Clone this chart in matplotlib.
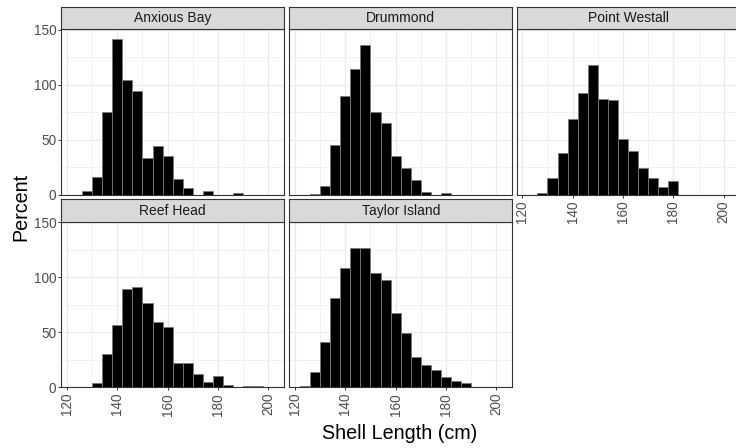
import numpy as np
import matplotlib
matplotlib.use("Agg")
import matplotlib.pyplot as plt
from matplotlib.ticker import MultipleLocator

plt.rcParams['font.family'] = ['Liberation Sans', 'DejaVu Sans']

# Histogram bins: 4 cm wide, left edges starting at 122 cm
bin_start = 122
bin_width = 4

sites = ["Anxious Bay", "Drummond", "Point Westall", "Reef Head", "Taylor Island"]

anxious_bay = [0, 3, 16, 75, 141, 104, 94, 33, 44, 35, 14, 6, 0, 3, 0, 0, 1.5, 0, 0]
drummond = [0, 1, 8, 45, 90, 114, 136, 75, 65, 35, 24, 13, 2, 0, 1.5, 0, 0, 0, 0]
point_westall = [0, 1.5, 15, 38, 69, 92, 118, 87, 86, 51, 40, 24, 15, 7, 12, 0, 0, 0, 0]
reef_head = [0, 0, 4, 30, 57, 89, 91, 77, 59, 55, 22, 22, 12, 5, 10, 2, 0, 1.2, 1.2]
taylor_island = [1.2, 14, 41, 81, 108, 127, 127, 104, 98, 68, 49, 28, 20, 16, 9, 6, 4, 0, 0]

site_values = [anxious_bay, drummond, point_westall, reef_head, taylor_island]

x_ticks = [120, 140, 160, 180, 200]
y_ticks = [0, 50, 100, 150]

W, H = 736, 448
fig = plt.figure(figsize=(W / 100, H / 100), dpi=100)


def px_axes(left, top, width, height):
    return fig.add_axes([left / W, 1 - (top + height) / H, width / W, height / H])


col_left = [61.3, 289.3, 516.7]
panel_w = 223.0
rows = [(6.7, 29.0), (199.3, 221.7)]  # (strip top, panel top)
panel_h = 165.7

border = "#333333"
grid_col = "#EBEBEB"
tick_col = "#4D4D4D"

for i, (site, vals) in enumerate(zip(sites, site_values)):
    r, c = divmod(i, 3)
    strip_top, panel_top = rows[r]
    ax = px_axes(col_left[c], panel_top, panel_w, panel_h)

    vals = np.asarray(vals, dtype=float)
    lefts = bin_start + bin_width * np.arange(len(vals))
    mask = vals > 0
    ax.bar(lefts[mask], vals[mask], width=bin_width, align="edge",
           color="black", edgecolor="#7a7a7a", linewidth=0.6, zorder=3)

    ax.set_xlim(117.8, 206.3)
    ax.set_ylim(0, 150.5)
    ax.set_xticks(x_ticks)
    ax.set_yticks(y_ticks)
    ax.xaxis.set_minor_locator(MultipleLocator(10))
    ax.yaxis.set_minor_locator(MultipleLocator(25))
    ax.grid(which="major", color=grid_col, linewidth=0.9, zorder=0)
    ax.grid(which="minor", color=grid_col, linewidth=0.45, zorder=0)
    ax.set_axisbelow(True)
    for sp in ax.spines.values():
        sp.set_color(border)
        sp.set_linewidth(0.8)
        sp.set_zorder(5)

    show_y = c == 0
    show_x = (r == 1) or (i == 2)
    ax.tick_params(axis="both", which="minor", length=0)
    ax.tick_params(axis="y", which="major", length=2.2 if show_y else 0,
                   width=0.7, color=border, labelleft=show_y,
                   labelsize=9.8, labelcolor=tick_col, pad=1.5)
    ax.tick_params(axis="x", which="major", length=2.2 if show_x else 0,
                   width=0.7, color=border, labelbottom=show_x,
                   labelsize=9.8, labelcolor=tick_col, pad=1.8,
                   labelrotation=90)

    # facet strip
    sax = px_axes(col_left[c], strip_top, panel_w, panel_top - strip_top)
    sax.set_facecolor("#D9D9D9")
    sax.set_xticks([])
    sax.set_yticks([])
    for sp in sax.spines.values():
        sp.set_color(border)
        sp.set_linewidth(0.8)
    sax.text(0.5, 0.48, site, ha="center", va="center", fontsize=10,
             color="#1A1A1A", transform=sax.transAxes)

fig.text(21 / W, 1 - 207 / H, "Percent", rotation=90, ha="center",
         va="center", fontsize=14.2, color="black")
fig.text(400 / W, 1 - 433 / H, "Shell Length (cm)", ha="center",
         va="center", fontsize=14.2, color="black")

fig.savefig("out.png", dpi=100, facecolor="white")
